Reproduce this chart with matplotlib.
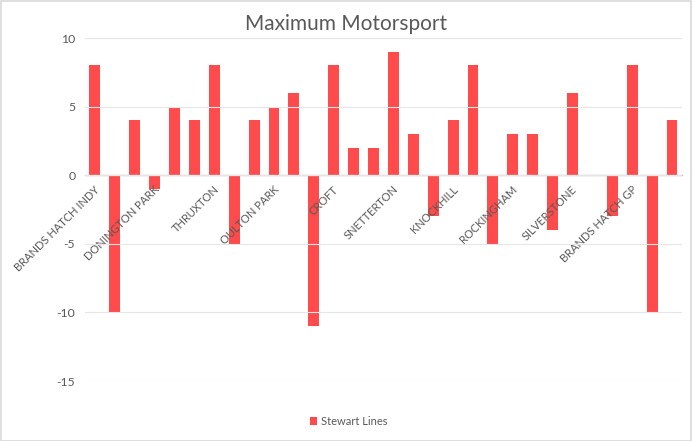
import matplotlib
matplotlib.use('Agg')
import matplotlib.pyplot as plt
from matplotlib.transforms import ScaledTranslation

# Data

venues = ['BRANDS HATCH INDY', 'DONINGTON PARK', 'THRUXTON', 'OULTON PARK', 'CROFT',
          'SNETTERTON', 'KNOCKHILL', 'ROCKINGHAM', 'SILVERSTONE', 'BRANDS HATCH GP']
races_per_venue = 3
stewart_lines = [8, -10, 4, -1, 5, 4, 8, -5, 4, 5,
                 6, -11, 8, 2, 2, 9, 3, -3, 4, 8,
                 -5, 3, 3, -4, 6, 0, -3, 8, -10, 4]
y_ticks = [-15, -10, -5, 0, 5, 10]

plt.rcParams['font.family'] = ['Lato', 'DejaVu Sans']
plt.rcParams['axes.unicode_minus'] = False

text_grey = '#595959'
bar_red = '#ff4b4b'

fig = plt.figure(figsize=(6.92, 4.41), dpi=100)
ax = fig.add_axes([0.1228, 0.136, 0.8627, 0.7778])

x = list(range(len(stewart_lines)))
ax.bar(x, stewart_lines, width=0.55, color=bar_red, label='Stewart Lines', zorder=2)

ax.set_xlim(-0.5, len(stewart_lines) - 0.5)
ax.set_ylim(-15, 10)
ax.set_yticks(y_ticks)
ax.set_yticklabels([str(v) for v in y_ticks])
ax.grid(axis='y', color='#e6e6e6', linewidth=0.8, zorder=0)
ax.set_axisbelow(False)

# category labels sit on the zero line, like Excel does
ax.spines['bottom'].set_position(('data', 0))
ax.spines['bottom'].set_color('#bfbfbf')
ax.spines['bottom'].set_linewidth(1.0)
for s in ['top', 'right', 'left']:
    ax.spines[s].set_visible(False)

ax.set_xticks([i * races_per_venue for i in range(len(venues))])
ax.set_xticklabels(venues, rotation=45, ha='right', va='top',
                   rotation_mode='anchor', fontsize=8, color=text_grey)
ax.tick_params(axis='x', length=0, pad=4)
ax.tick_params(axis='y', length=0, pad=7, labelsize=8.8, labelcolor=text_grey)

shift = ScaledTranslation(-1 / 100, -3 / 100, fig.dpi_scale_trans)
for lab in ax.get_xticklabels():
    lab.set_transform(lab.get_transform() + shift)

fig.text(0.5, 0.9456, 'Maximum Motorsport', ha='center', va='center',
         fontsize=15, color=text_grey)

fig.legend(loc='center', bbox_to_anchor=(0.5036, 0.045), frameon=False,
           fontsize=8, labelcolor=text_grey, handlelength=0.7, handleheight=0.7,
           handletextpad=0.3)

# light chart border
fig.patches.append(plt.Rectangle((0.001, 0.001), 0.997, 0.997, transform=fig.transFigure,
                                 fill=False, edgecolor='#d9d9d9', linewidth=1.2))

plt.savefig('out.png', dpi=100)
